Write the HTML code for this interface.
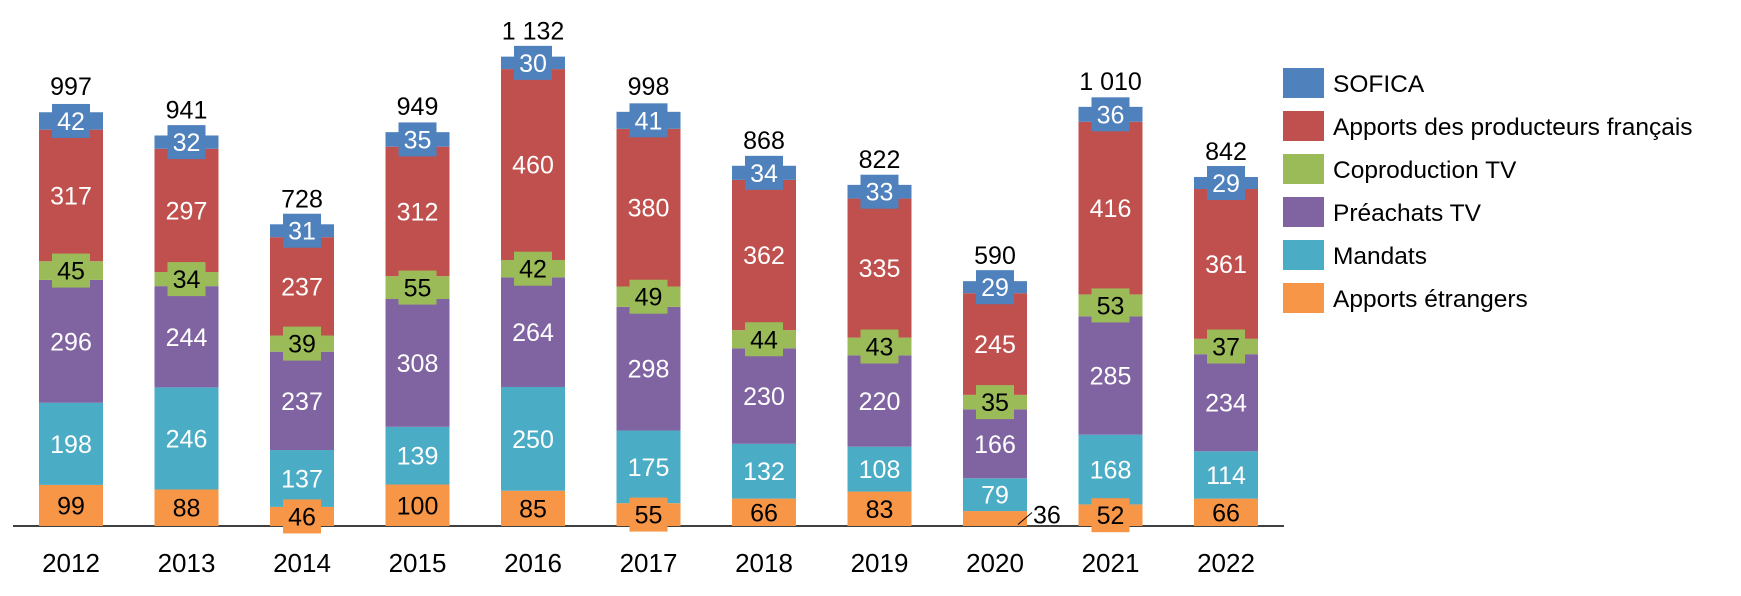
<!DOCTYPE html>
<html><head><meta charset="utf-8"><style>
html,body{margin:0;padding:0;background:#fff;}
svg{display:block;font-family:"Liberation Sans",sans-serif;}
</style></head><body>
<svg id="chart" width="1741" height="596" viewBox="0 0 1741 596" xmlns="http://www.w3.org/2000/svg">
<line x1="13" y1="526" x2="1284" y2="526" stroke="#000" stroke-width="1.5"/>
<g id="bars"></g>
<g id="legend"></g>
</svg>
<script>
const years = ["2012","2013","2014","2015","2016","2017","2018","2019","2020","2021","2022"];
const seriesNames = ["Apports étrangers","Mandats","Préachats TV","Coproduction TV","Apports des producteurs français","SOFICA"];
const apportsEtrangers = [99,88,46,100,85,55,66,83,36,52,66];
const mandats = [198,246,137,139,250,175,132,108,79,168,114];
const preachatsTV = [296,244,237,308,264,298,230,220,166,285,234];
const coproductionTV = [45,34,39,55,42,49,44,43,35,53,37];
const apportsProducteurs = [317,297,237,312,460,380,362,335,245,416,361];
const sofica = [42,32,31,35,30,41,34,33,29,36,29];
const totalLabels = ["997","941","728","949","1 132","998","868","822","590","1 010","842"];

const series = [apportsEtrangers,mandats,preachatsTV,coproductionTV,apportsProducteurs,sofica];
const colors = ["#F79646","#4BACC6","#8064A2","#9BBB59","#C0504D","#4F81BD"];
const textColors = ["#000","#fff","#fff","#000","#fff","#fff"];
const segNames = ["apports-etrangers","mandats","preachats-tv","coproduction-tv","apports-producteurs","sofica"];
const NS = "http://www.w3.org/2000/svg";
const baseY = 526, scale = 0.415, x0 = 71, step = 115.5, barW = 64;
const yPos = v => baseY - v*scale;
const xPos = i => x0 + i*step;
const bars = document.getElementById('bars');
function mk(tag, attrs){const e=document.createElementNS(NS,tag);for(const k in attrs)e.setAttribute(k,attrs[k]);return e;}

years.forEach((yr,i)=>{
  let cum = 0;
  const cx = xPos(i);
  series.forEach((s,k)=>{
    const v = s[i];
    const y1 = yPos(cum+v), y0 = yPos(cum);
    const r = mk('rect',{x:cx-barW/2,y:y1,width:barW,height:y0-y1,fill:colors[k]});
    
    
    bars.appendChild(r);
    cum += v;
  });
  cum = 0;
  series.forEach((s,k)=>{
    const v = s[i];
    const y1 = yPos(cum+v), y0 = yPos(cum);
    const h = y0-y1, cy = (y0+y1)/2;
    cum += v;
    if (k === 0 && h < 16) {
      const ln = mk('line',{x1:cx+barW/2-9,y1:cy+6,x2:cx+barW/2+5,y2:cy-6,stroke:'#000','stroke-width':1});
      
      
      bars.appendChild(ln);
      const t = mk('text',{x:cx+barW/2+6,y:cy-4+9,'font-size':25,fill:'#000'});
      t.textContent = v;
      
      
      bars.appendChild(t);
      return;
    }
    if (h < 27) {
      const b = mk('rect',{x:cx-19,y:cy-17,width:38,height:34,fill:colors[k]});
      
      
      bars.appendChild(b);
    }
    const t = mk('text',{x:cx,y:cy+9,'font-size':25,'text-anchor':'middle',fill:textColors[k]});
    t.textContent = v;
    
    
    bars.appendChild(t);
  });
  const tt = mk('text',{x:cx,y:yPos(cum)-17,'font-size':25,'text-anchor':'middle',fill:'#000'});
  tt.textContent = totalLabels[i];
  
  
  bars.appendChild(tt);
  const yl = mk('text',{x:cx,y:572,'font-size':26,'text-anchor':'middle',fill:'#000'});
  yl.textContent = yr;
  
  
  bars.appendChild(yl);
});

const legend = document.getElementById('legend');
for (let j=0;j<6;j++){
  const k = 5-j;
  const cy = 83 + j*43;
  const g = mk('g',{});
  
  
  g.appendChild(mk('rect',{x:1283,y:cy-15,width:41,height:30,fill:colors[k]}));
  const t = mk('text',{x:1333,y:cy+9,'font-size':24.5,fill:'#000'});
  t.textContent = seriesNames[k];
  g.appendChild(t);
  legend.appendChild(g);
}
</script>
</body></html>
